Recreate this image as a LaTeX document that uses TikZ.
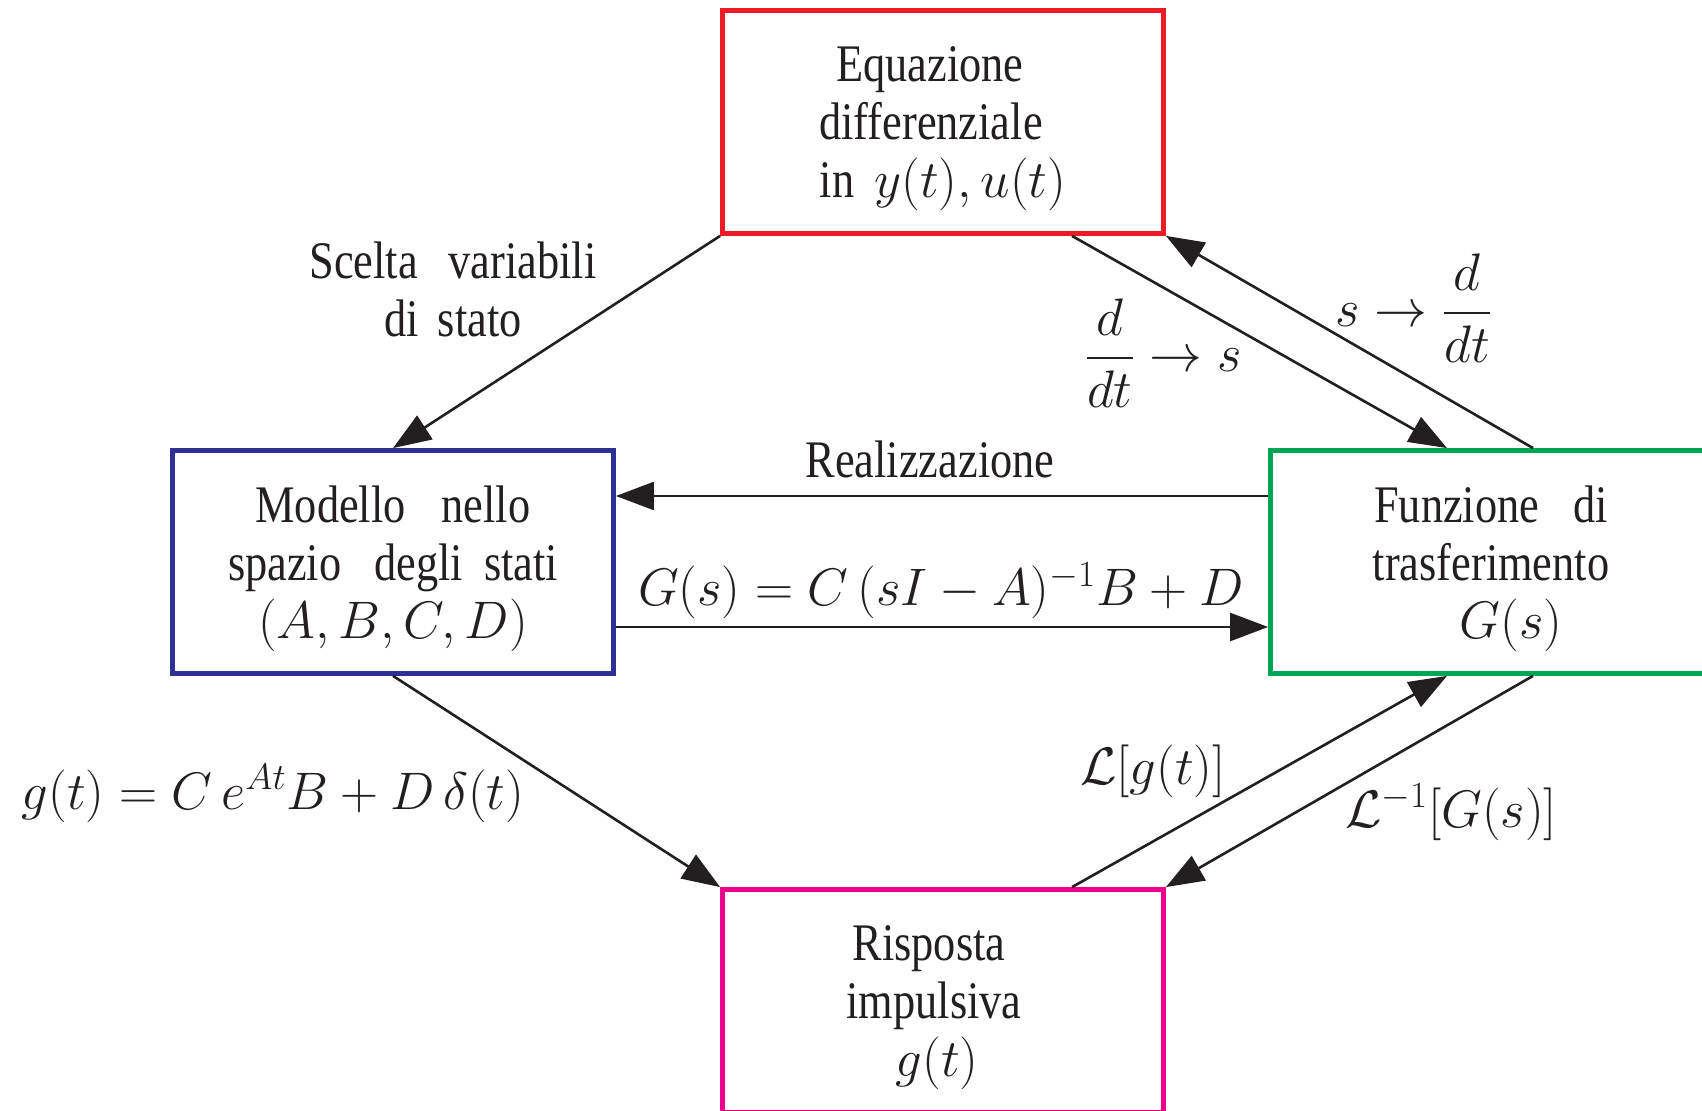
\documentclass[tikz,border=0pt]{standalone}
\usepackage{fix-cm}
\usepackage[no-math]{fontspec}
\setmainfont{Liberation Serif}[FakeStretch=0.84]
\usepackage{amsmath}
\usetikzlibrary{arrows.meta}
\definecolor{eqred}{HTML}{ED1C24}
\definecolor{ssblue}{HTML}{2E3192}
\definecolor{tfgreen}{HTML}{00A651}
\definecolor{irmagenta}{HTML}{EC008C}
\definecolor{inkblack}{HTML}{231F20}
\newcommand{\diagfont}{\fontsize{26.4}{29}\selectfont}
\tikzset{
  reprbox/.style={draw,line width=2.4pt,minimum width=220.5pt,minimum height=111.5pt,
    inner sep=0pt,align=center,font=\diagfont,text=inkblack,text depth=0pt},
  maparrow/.style={-{Triangle[length=19pt,width=14pt]},line width=1.3pt,draw=inkblack},
  maplabel/.style={font=\diagfont,text=inkblack,inner sep=0pt,align=center}
}

\begin{document}
\begin{tikzpicture}[x=0.5pt,y=-0.5pt]
  \useasboundingbox (0,0) rectangle (1702,1111);
  % 四个方框
  \node[reprbox,draw=eqred] (eqdiff) at (943,122) {\mbox{Equazione\hspace{13pt}}\\\mbox{differenziale\hspace{12pt}}\\in\hspace{10pt}$y(t), u(t)$};
  \node[reprbox,draw=ssblue] (statespace) at (393,562) {Modello\hspace{18pt}nello\\spazio\hspace{16.5pt}degli\hspace{10.5pt}stati\\$(A,B,C,D)$};
  \node[reprbox,draw=tfgreen] (transfer) at (1491,562) {Funzione\hspace{17pt}di\\trasferimento\\\hspace*{20pt}$G(s)$};
  \node[reprbox,draw=irmagenta] (impulse) at (943,1001) {\mbox{Risposta\hspace{14pt}}\\\mbox{impulsiva\hspace{9pt}}\\\mbox{$g(t)$\hspace{6pt}}};
  % 箭头
  \draw[maparrow] (eqdiff.south west) -- (statespace.north);
  \draw[maparrow] ([xshift=64.5pt]eqdiff.south) -- ([xshift=-22pt]transfer.north);
  \draw[maparrow] ([xshift=21pt]transfer.north) -- (eqdiff.south east);
  \draw[maparrow] ([yshift=33pt]transfer.west) -- ([yshift=33pt]statespace.east);
  \draw[maparrow] ([yshift=-32.5pt]statespace.east) -- ([yshift=-32.5pt]transfer.west);
  \draw[maparrow] (statespace.south) -- (impulse.north west);
  \draw[maparrow] ([xshift=64.5pt]impulse.north) -- ([xshift=-22pt]transfer.south);
  \draw[maparrow] ([xshift=21pt]transfer.south) -- (impulse.north east);
  % 标签
  \node[maplabel] (choicelabel) at (453,289) {Scelta\hspace{15.5pt}variabili\\di\hspace{9.5pt}stato};
  \node[maplabel] (difflabel) at (1163,353) {$\dfrac{d}{dt}\rightarrow s$};
  \node[maplabel] (sublabel) at (1414,308) {$s\rightarrow\dfrac{d}{dt}$};
  \node[maplabel,anchor=base] (reallabel) at (930,478) {Realizzazione};
  \node[maplabel,anchor=base] (tflabel) at (941,606) {$G(s) = C\,(sI - A)^{-1}B + D$};
  \node[maplabel,anchor=base] (irlabel) at (273,809) {$g(t) = C\,e^{At}B + D\,\delta(t)$};
  \node[maplabel,anchor=base] (laplabel) at (1153,784) {$\mathcal{L}[g(t)]$};
  \node[maplabel,anchor=base] (invlabel) at (1451,827) {$\mathcal{L}^{-1}[G(s)]$};
\end{tikzpicture}
\end{document}
